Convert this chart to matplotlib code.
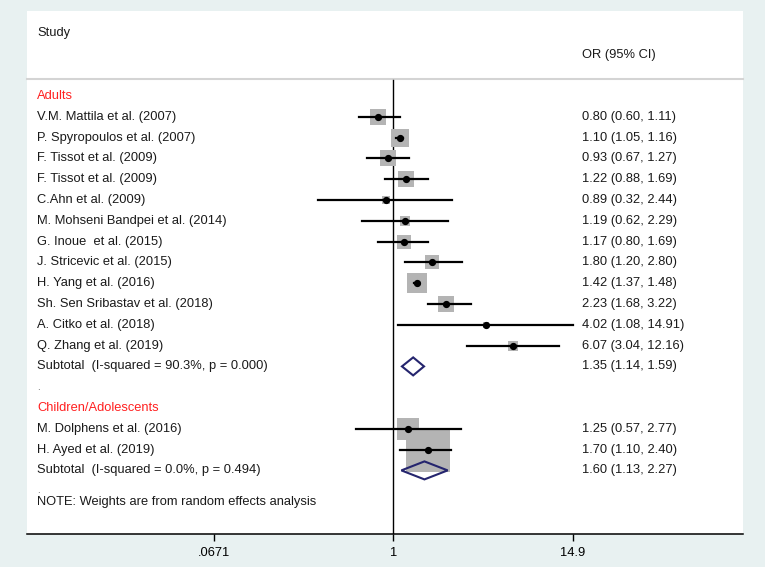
import numpy as np
import matplotlib.pyplot as plt
from matplotlib.patches import Polygon

plt.rcParams['font.family'] = ['Liberation Sans', 'DejaVu Sans']

# Adults
adult_studies = ["V.M. Mattila et al. (2007)", "P. Spyropoulos et al. (2007)",
                 "F. Tissot et al. (2009)", "F. Tissot et al. (2009)",
                 "C.Ahn et al. (2009)", "M. Mohseni Bandpei et al. (2014)",
                 "G. Inoue  et al. (2015)", "J. Stricevic et al. (2015)",
                 "H. Yang et al. (2016)", "Sh. Sen Sribastav et al. (2018)",
                 "A. Citko et al. (2018)", "Q. Zhang et al. (2019)"]
adult_or = [0.80, 1.10, 0.93, 1.22, 0.89, 1.19, 1.17, 1.80, 1.42, 2.23, 4.02, 6.07]
adult_lo = [0.60, 1.05, 0.67, 0.88, 0.32, 0.62, 0.80, 1.20, 1.37, 1.68, 1.08, 3.04]
adult_hi = [1.11, 1.16, 1.27, 1.69, 2.44, 2.29, 1.69, 2.80, 1.48, 3.22, 14.91, 12.16]
adult_w = [10.5, 14.6, 10.0, 9.6, 2.6, 4.8, 8.4, 8.1, 15.5, 10.0, 1.2, 4.8]
adult_sub = (1.35, 1.14, 1.59)
adult_sub_label = "Subtotal  (I-squared = 90.3%, p = 0.000)"

# Children/Adolescents
child_studies = ["M. Dolphens et al. (2016)", "H. Ayed et al. (2019)"]
child_or = [1.25, 1.70]
child_lo = [0.57, 1.10]
child_hi = [2.77, 2.40]
child_w = [19.6, 80.4]
child_sub = (1.60, 1.13, 2.27)
child_sub_label = "Subtotal  (I-squared = 0.0%, p = 0.494)"

xticks = [0.0671, 1, 14.9]
xtick_labels = [".0671", "1", "14.9"]

W, H = 765, 567
fig = plt.figure(figsize=(W / 100, H / 100), dpi=100, facecolor='#e8f1f1')
ax = fig.add_axes([27 / W, 1 - 534 / H, (743 - 27) / W, (534 - 11) / H])
ax.set_facecolor('white')
ax.set_xscale('log')
ax.set_xlim(10 ** -2.397, 10 ** 2.289)
row0, step = 96, 20.8
ax.set_ylim((534 - row0) / step, (11 - row0) / step)

for s in ['top', 'right', 'left']:
    ax.spines[s].set_visible(False)
ax.spines['bottom'].set_linewidth(1.1)
ax.set_yticks([])
ax.set_xticks(xticks)
ax.set_xticklabels(xtick_labels)
ax.xaxis.set_minor_locator(plt.NullLocator())
ax.tick_params(axis='x', length=5, width=1, labelsize=9.3, pad=4.5, colors='black')

tr = ax.get_yaxis_transform()
fs = 9.3
lx, rx = (37 - 27) / 716, (582 - 27) / 716
txt = '#1a1a1a'

# header
ax.text(lx, (33 - row0) / step, "Study", transform=tr, fontsize=fs, va='center', color=txt)
ax.text(rx, (55 - row0) / step, "OR (95% CI)", transform=tr, fontsize=fs, va='center', color=txt)
ax.plot([0, 1], [(79.5 - row0) / step] * 2, transform=tr, color='#d4d4d4', lw=1.5, clip_on=False)
ax.plot([1, 1], [(80 - row0) / step, (534 - row0) / step], color='black', lw=1.0)

k = 4.9 * 0.72  # box side in points per sqrt(weight)


def draw_group(start, title, studies, ors, los, his, ws, sub, sub_label):
    ax.text(lx, start, title, transform=tr, fontsize=fs, va='center', color='#ff2020')
    rows = start + 1 + np.arange(len(studies))
    for r, o, w in zip(rows, ors, ws):
        ax.scatter([o], [r], marker='s', s=(k * np.sqrt(w)) ** 2, color='#b4b4b4',
                   linewidths=0, zorder=2)
    for r, name, o, lo, hi in zip(rows, studies, ors, los, his):
        ax.plot([lo, hi], [r, r], color='black', lw=1.6, zorder=3)
        ax.plot([o], [r], 'o', color='black', ms=4.2, zorder=4)
        ax.text(lx, r, name, transform=tr, fontsize=fs, va='center', color=txt)
        ax.text(rx, r, f"{o:.2f} ({lo:.2f}, {hi:.2f})", transform=tr, fontsize=fs,
                va='center', color=txt)
    rs = rows[-1] + 1
    h = 9 / step
    o, lo, hi = sub
    ax.add_patch(Polygon([(lo, rs), (o, rs - h), (hi, rs), (o, rs + h)], closed=True,
                         facecolor='none', edgecolor='#25256e', lw=1.5, zorder=5))
    ax.text(lx, rs, sub_label, transform=tr, fontsize=fs, va='center', color=txt)
    ax.text(rx, rs, f"{o:.2f} ({lo:.2f}, {hi:.2f})", transform=tr, fontsize=fs,
            va='center', color=txt)
    return rs


r = draw_group(0, "Adults", adult_studies, adult_or, adult_lo, adult_hi, adult_w,
               adult_sub, adult_sub_label)
ax.text(lx, r + 1, ".", transform=tr, fontsize=7, va='center', color='#555555')
r = draw_group(r + 2, "Children/Adolescents", child_studies, child_or, child_lo, child_hi,
               child_w, child_sub, child_sub_label)
ax.text(lx, r + 0.95, ".", transform=tr, fontsize=7, va='center', color='#555555')
ax.text(lx, (502 - row0) / step, "NOTE: Weights are from random effects analysis",
        transform=tr, fontsize=fs, va='center', color=txt)

fig.savefig('out.png', dpi=100, facecolor=fig.get_facecolor())
